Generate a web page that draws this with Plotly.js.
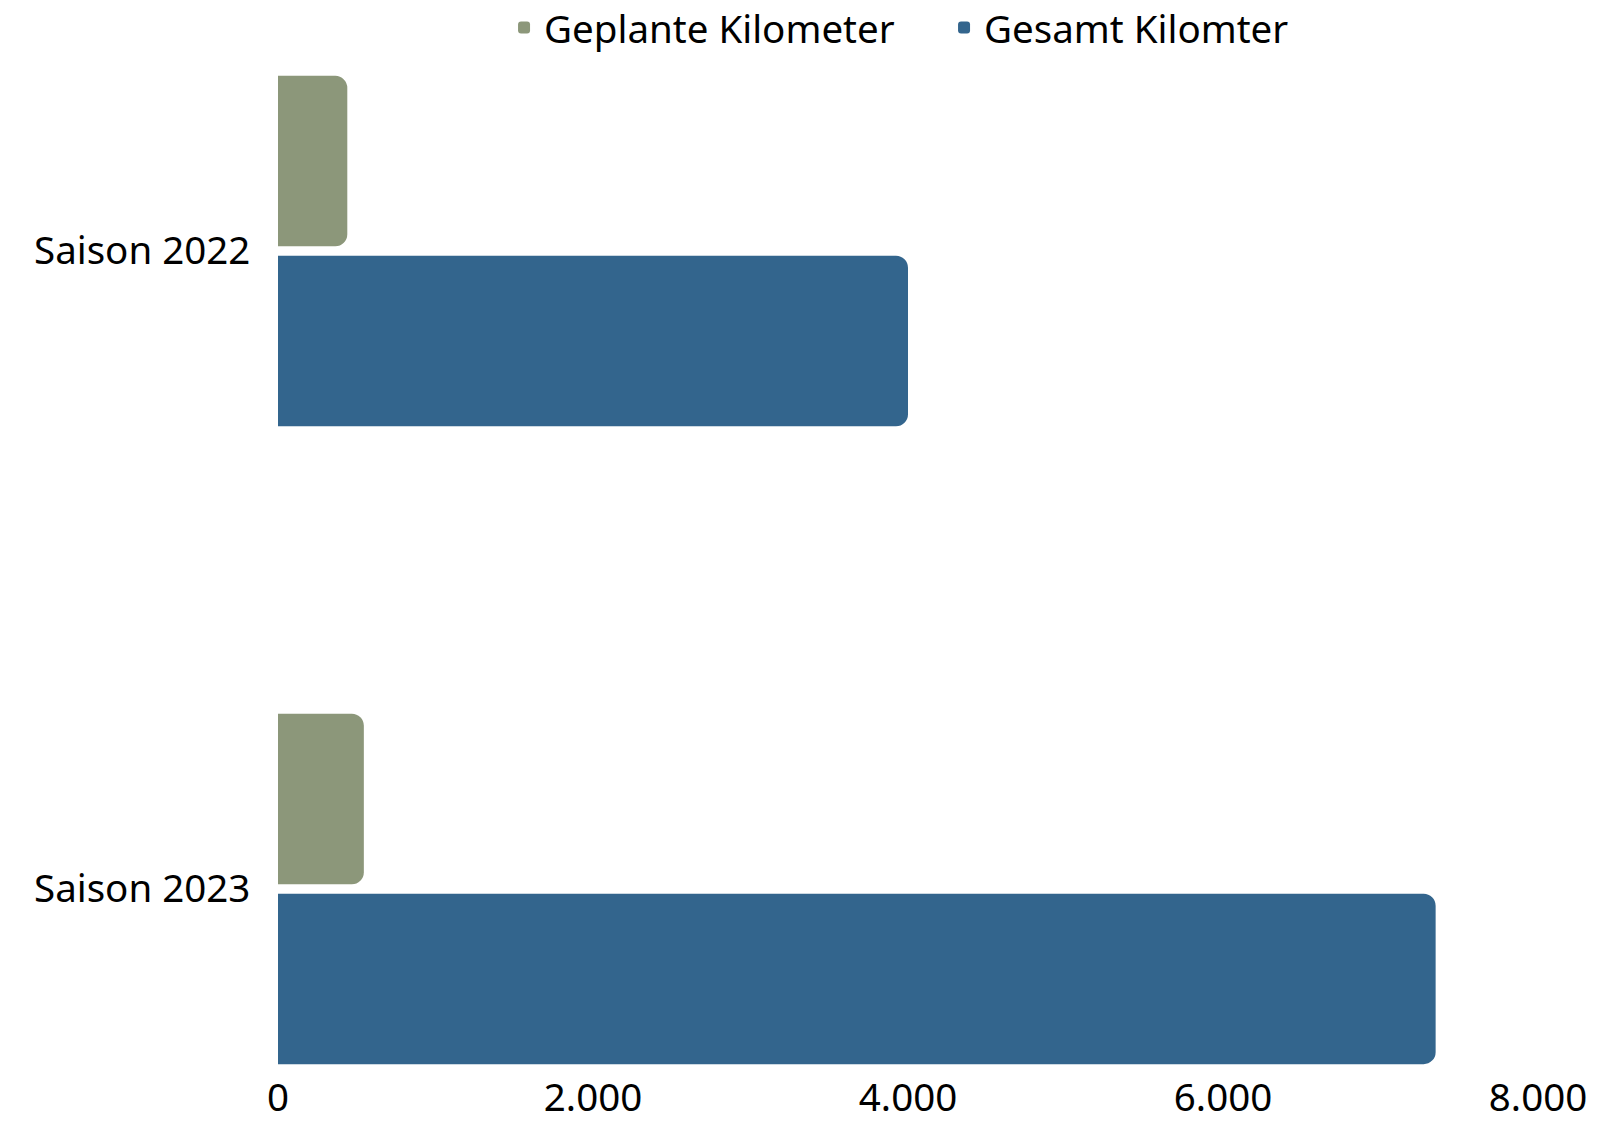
<!DOCTYPE html>
<html>
<head>
<meta charset="utf-8">
<script src="https://cdn.plot.ly/plotly-3.0.1.min.js"></script>
<style>html,body{margin:0;padding:0;background:#fff;}#chart{width:1611px;height:1121px;}</style>
</head>
<body>
<div id="chart"></div>
<script>
const categories = ["Saison 2022", "Saison 2023"];
const geplanteKm = [440, 545];
const gesamtKm = [4000, 7350];
const seriesNames = ["Geplante Kilometer", "Gesamt Kilomter"];
const tickValues = [0, 2000, 4000, 6000, 8000];

const FONT = "Noto Sans, Open Sans, sans-serif";
const FS = 38.5;

const traces = [
  {type: "bar", orientation: "h", name: seriesNames[0], y: categories, x: geplanteKm,
   marker: {color: "#8c977a"}, hoverinfo: "x+name"},
  {type: "bar", orientation: "h", name: seriesNames[1], y: categories, x: gesamtKm,
   marker: {color: "#33658d"}, hoverinfo: "x+name"}
];

const layout = {
  width: 1611, height: 1121,
  paper_bgcolor: "#fff", plot_bgcolor: "#fff",
  font: {family: FONT, size: FS, color: "#000"},
  separators: ",.",
  margin: {l: 278, r: 73, t: 66, b: 47, pad: 0, autoexpand: false},
  barmode: "group",
  bargap: 0.436,
  bargroupgap: 0.053,
  barcornerradius: 12,
  showlegend: true,
  legend: {orientation: "h", xref: "container", yref: "paper", x: 0.586, xanchor: "center",
           y: 1.0694, yanchor: "top", font: {family: FONT, size: FS, color: "#000"},
           traceorder: "normal", itemwidth: 30, entrywidth: 395, entrywidthmode: "pixels"},
  xaxis: {range: [0, 8000], tickvals: tickValues, tickformat: ",d", separatethousands: true,
          showgrid: false, zeroline: false, showline: false, ticks: "",
          ticklabelstandoff: -3,
          tickfont: {family: FONT, size: FS, color: "#000"}},
  yaxis: {type: "category", range: [1.29, -0.29], showgrid: false, zeroline: false, showline: false,
          ticks: "outside", ticklen: 19, tickcolor: "rgba(0,0,0,0)",
          tickfont: {family: FONT, size: FS, color: "#000"}}
};

Plotly.newPlot("chart", traces, layout, {displayModeBar: false, staticPlot: true});
</script>
</body>
</html>
